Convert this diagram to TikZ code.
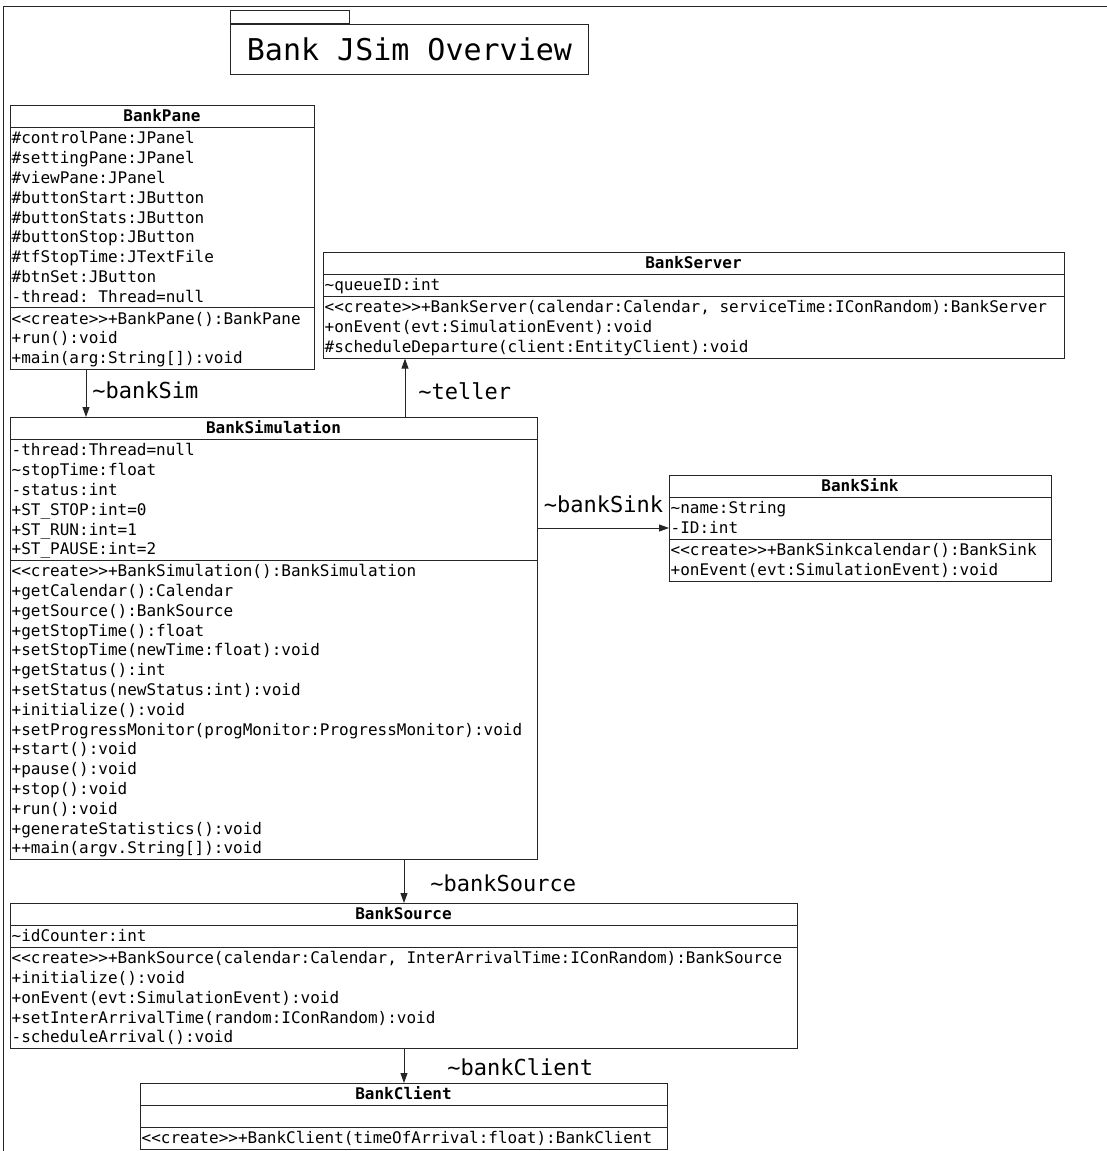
\documentclass[tikz,border=0pt]{standalone}
\usepackage{fontspec}
\setmonofont{DejaVu Sans Mono}
\usetikzlibrary{arrows.meta}
\tikzset{
  umlbox/.style={draw=black!85, line width=0.9pt, inner sep=0pt},
  umlrow/.style={anchor=base west, inner sep=0pt, font=\ttfamily\fontsize{16}{19}\selectfont},
  umlhead/.style={anchor=base, inner sep=0pt, font=\ttfamily\bfseries\fontsize{16}{19}\selectfont},
  assoc/.style={draw=black!85, line width=0.9pt, -{Triangle[length=10pt,width=7pt]}},
  assoclabel/.style={inner sep=0pt, font=\ttfamily\fontsize{22}{26}\selectfont},
}
\newcommand{\rowh}{19.8}
\newcommand{\tld}{\textasciitilde}
% #1 node name, (#2,#3) top left, #4 width, #5 class name, #6 fields, #7 operations
\newcommand{\umlclass}[7]{%
  \def\nf{1}\def\no{1}
  \foreach \txt [count=\k] in {#6}{
    \node[umlrow] at (#2+1.5, #3+22.5+1+\k*\rowh-.5*\rowh+5.5) {\txt};
    \xdef\nf{\k}}
  \pgfmathsetmacro\yops{#3+22.5+\nf*\rowh+2}
  \foreach \txt [count=\k] in {#7}{
    \node[umlrow] at (#2+1.5, \yops+1+\k*\rowh-.5*\rowh+5.5) {\txt};
    \xdef\no{\k}}
  \pgfmathsetmacro\htot{22.5+\nf*\rowh+2+\no*\rowh+2}
  \node[umlbox, minimum width=#4pt, minimum height=\htot pt, anchor=north west] (#1) at (#2,#3) {};
  \node[umlhead] at (#2+#4/2, #3+11.25+5.5) {#5};
  \draw[umlbox] (#2,#3+22.5) -- ++(#4,0);
  \draw[umlbox] (#2,\yops) -- ++(#4,0);
}

\begin{document}
\begin{tikzpicture}[x=1pt, y=-1pt]
  \useasboundingbox (0,0) rectangle (1107,1151);
  \draw[umlbox] (3,1151) -- (3,6) -- (1107,6);

  % title frame
  \node[umlbox, minimum width=358pt, minimum height=50pt, anchor=north west,
        font=\ttfamily\fontsize{30}{36}\selectfont] (title) at (230,24) {Bank JSim Overview};
  \node[umlbox, minimum width=119pt, minimum height=13pt, anchor=south west] (tab) at (title.north west) {};

  \umlclass{pane}{10}{105}{304}{BankPane}{
    \#controlPane:JPanel,
    \#settingPane:JPanel,
    \#viewPane:JPanel,
    \#buttonStart:JButton,
    \#buttonStats:JButton,
    \#buttonStop:JButton,
    \#tfStopTime:JTextFile,
    \#btnSet:JButton,
    -thread: Thread=null}{
    <<create>>+BankPane():BankPane,
    +run():void,
    +main(arg:String[]):void}

  \umlclass{server}{323}{252}{741}{BankServer}{
    \tld queueID:int}{
    {<<create>>+BankServer(calendar:Calendar, serviceTime:IConRandom):BankServer},
    +onEvent(evt:SimulationEvent):void,
    \#scheduleDeparture(client:EntityClient):void}

  \umlclass{sim}{10}{417}{527}{BankSimulation}{
    -thread:Thread=null,
    \tld stopTime:float,
    -status:int,
    +ST\_STOP:int=0,
    +ST\_RUN:int=1,
    +ST\_PAUSE:int=2}{
    <<create>>+BankSimulation():BankSimulation,
    +getCalendar():Calendar,
    +getSource():BankSource,
    +getStopTime():float,
    +setStopTime(newTime:float):void,
    +getStatus():int,
    +setStatus(newStatus:int):void,
    +initialize():void,
    +setProgressMonitor(progMonitor:ProgressMonitor):void,
    +start():void,
    +pause():void,
    +stop():void,
    +run():void,
    +generateStatistics():void,
    ++main(argv.String[]):void}

  \umlclass{sink}{669}{475}{382}{BankSink}{
    \tld name:String,
    -ID:int}{
    <<create>>+BankSinkcalendar():BankSink,
    +onEvent(evt:SimulationEvent):void}

  \umlclass{source}{10}{903}{787}{BankSource}{
    \tld idCounter:int}{
    {<<create>>+BankSource(calendar:Calendar, InterArrivalTime:IConRandom):BankSource},
    +initialize():void,
    +onEvent(evt:SimulationEvent):void,
    +setInterArrivalTime(random:IConRandom):void,
    -scheduleArrival():void}

  \umlclass{client}{140}{1083}{527}{BankClient}{}{
    <<create>>+BankClient(timeOfArrival:float):BankClient}

  % associations
  \coordinate (panex) at (86,0);
  \coordinate (tellerx) at (405,0);
  \coordinate (sinky) at (0,528);
  \coordinate (sourcex) at (404,0);

  \draw[assoc] (pane.south -| panex) -- (sim.north -| panex)
    node[assoclabel, midway, anchor=west, xshift=6pt, yshift=3pt] {\tld bankSim};
  \draw[assoc] (sim.north -| tellerx) -- (server.south -| tellerx)
    node[assoclabel, midway, anchor=west, xshift=13pt, yshift=-3pt] {\tld teller};
  \draw[assoc] (sim.east |- sinky) -- (sink.west |- sinky)
    node[assoclabel, midway, yshift=24pt] {\tld bankSink};
  \draw[assoc] (sim.south -| sourcex) -- (source.north -| sourcex)
    node[assoclabel, midway, anchor=west, xshift=26pt, yshift=-2pt] {\tld bankSource};
  \draw[assoc] (source.south -| sourcex) -- (client.north -| sourcex)
    node[assoclabel, midway, anchor=west, xshift=43pt, yshift=-1.5pt] {\tld bankClient};
\end{tikzpicture}
\end{document}
